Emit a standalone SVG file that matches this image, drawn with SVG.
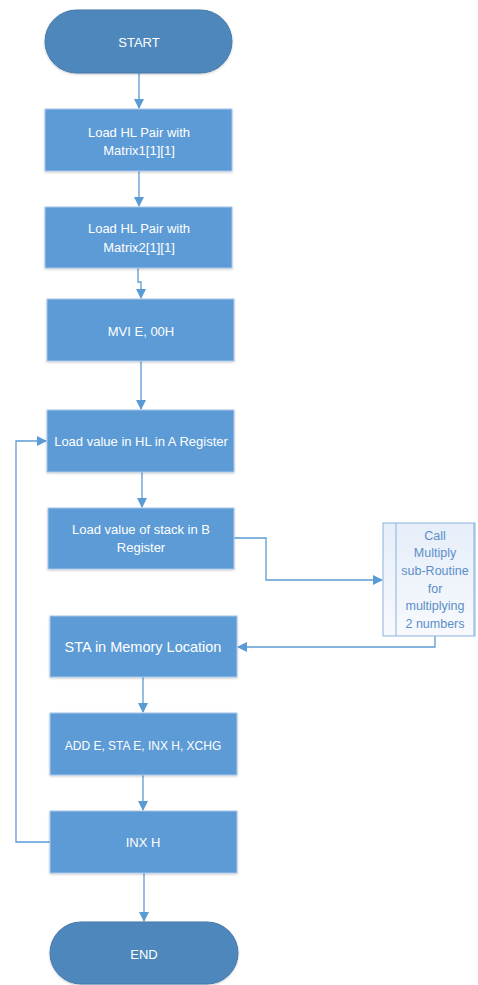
<svg xmlns="http://www.w3.org/2000/svg" width="478" height="985" viewBox="0 0 478 985">
<defs>
<marker id="ah" markerWidth="10" markerHeight="10" refX="9" refY="5" orient="auto" markerUnits="userSpaceOnUse">
<path d="M0,0 L10,5 L0,10 z" fill="#5b9bd5"/>
</marker>
<linearGradient id="sub" x1="0" y1="0" x2="0" y2="1">
<stop offset="0" stop-color="#e6eef9"/>
<stop offset="1" stop-color="#f7f9fd"/>
</linearGradient>
<filter id="sh" x="-5%" y="-5%" width="110%" height="115%">
<feDropShadow dx="0" dy="1" stdDeviation="1" flood-color="#000" flood-opacity="0.2"/>
</filter>
</defs>
<style>
.term{fill:#4e87bb;stroke:#4479aa;stroke-width:1;filter:url(#sh)}
.proc{fill:#5b9bd5;stroke:#a9c7ea;stroke-width:1;filter:url(#sh)}
.t{font-family:"Liberation Sans",Arial,sans-serif;font-size:13px;fill:#ffffff;text-anchor:middle;dominant-baseline:central}
.ts{font-family:"Liberation Sans",Arial,sans-serif;font-size:12.5px;fill:#5b8fc9;text-anchor:middle;dominant-baseline:central}
.c{fill:none;stroke:#5b9bd5;stroke-width:1.3}
</style>
<rect width="478" height="985" fill="#ffffff"/>
<g id="connectors">
<path class="c" d="M139,73 V108" marker-end="url(#ah)"/>
<path class="c" d="M139,171 V206" marker-end="url(#ah)"/>
<path class="c" d="M138,268 V282 H141 V298" marker-end="url(#ah)"/>
<path class="c" d="M141,361 V409" marker-end="url(#ah)"/>
<path class="c" d="M142,472 V507" marker-end="url(#ah)"/>
<path class="c" d="M234,538 H266 V580 H382" marker-end="url(#ah)"/>
<path class="c" d="M435,636 V647 H238" marker-end="url(#ah)"/>
<path class="c" d="M143,677 V712" marker-end="url(#ah)"/>
<path class="c" d="M143,775 V810" marker-end="url(#ah)"/>
<path class="c" d="M50,842 H16 V441 H46" marker-end="url(#ah)"/>
<path class="c" d="M144,873 V921" marker-end="url(#ah)"/>
</g>
<g id="start">
<rect class="term" x="45" y="10" width="187" height="63" rx="31.5"/>
<text class="t" x="139" y="42">START</text>
</g>
<g id="load-matrix1">
<rect class="proc" x="45" y="109" width="187" height="62"/>
<text class="t" x="139" y="132">Load HL Pair with</text>
<text class="t" x="139" y="150">Matrix1[1][1]</text>
</g>
<g id="load-matrix2">
<rect class="proc" x="45" y="207" width="187" height="61"/>
<text class="t" x="139" y="228">Load HL Pair with</text>
<text class="t" x="139" y="247">Matrix2[1][1]</text>
</g>
<g id="mvi">
<rect class="proc" x="47" y="299" width="187" height="62"/>
<text class="t" x="141" y="331">MVI E, 00H</text>
</g>
<g id="load-a">
<rect class="proc" x="47" y="410" width="187" height="62"/>
<text class="t" x="141" y="441">Load value in HL in A Register</text>
</g>
<g id="load-b">
<rect class="proc" x="48" y="508" width="186" height="61"/>
<text class="t" x="141" y="529">Load value of stack in B</text>
<text class="t" x="141" y="547">Register</text>
</g>
<g id="multiply">
<rect x="383" y="523" width="92" height="113" fill="url(#sub)" stroke="#8ab2df" stroke-width="1"/>
<line x1="396" y1="523" x2="396" y2="636" stroke="#8ab2df" stroke-width="1"/>
<line x1="474" y1="523" x2="474" y2="636" stroke="#8ab2df" stroke-width="1"/>
<text class="ts" x="435" y="536">Call</text>
<text class="ts" x="435" y="553">Multiply</text>
<text class="ts" x="435" y="571">sub-Routine</text>
<text class="ts" x="435" y="589">for</text>
<text class="ts" x="435" y="606">multiplying</text>
<text class="ts" x="435" y="624">2 numbers</text>
</g>
<g id="sta">
<rect class="proc" x="50" y="616" width="187" height="61"/>
<text class="t" x="143" y="647" style="font-size:14.5px">STA in Memory Location</text>
</g>
<g id="add">
<rect class="proc" x="50" y="713" width="187" height="62"/>
<text class="t" x="143" y="746" style="font-size:12px">ADD E, STA E, INX H, XCHG</text>
</g>
<g id="inx">
<rect class="proc" x="50" y="811" width="187" height="62"/>
<text class="t" x="143" y="842">INX H</text>
</g>
<g id="end">
<rect class="term" x="50" y="922" width="188" height="62" rx="31"/>
<text class="t" x="144" y="954">END</text>
</g>
</svg>
